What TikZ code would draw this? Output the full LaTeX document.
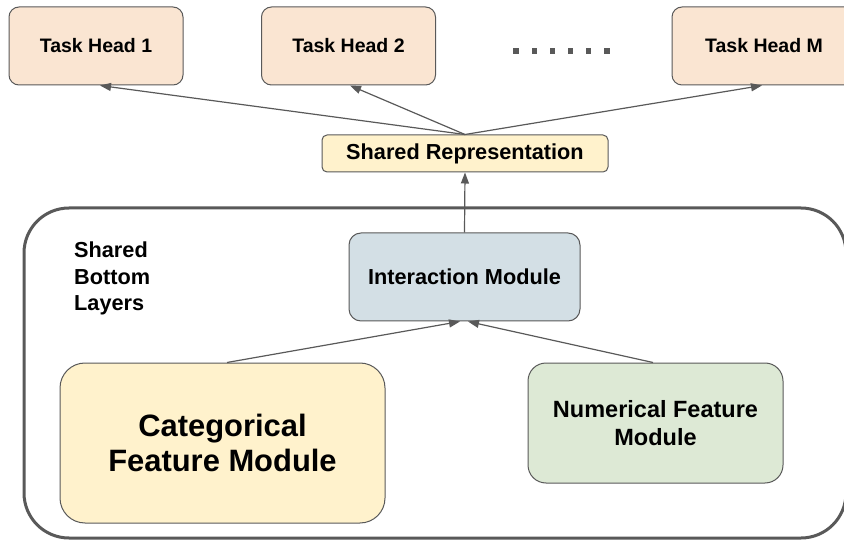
\documentclass[tikz,border=0pt]{standalone}
\usepackage{fontspec}
\setmainfont{Liberation Sans}
\usetikzlibrary{arrows.meta}
\definecolor{bord}{HTML}{595959}
\definecolor{headfill}{HTML}{FAE5D2}
\definecolor{yellowfill}{HTML}{FFF2CC}
\definecolor{bluefill}{HTML}{D3DFE5}
\definecolor{greenfill}{HTML}{DDE9D5}
\begin{document}
\begin{tikzpicture}[x=1pt,y=-1pt,
  box/.style={draw=bord, line width=1pt, align=center, inner sep=0pt, font=\bfseries},
  head/.style={box, fill=headfill, rounded corners=10pt, minimum width=174pt, minimum height=78pt,
    font=\bfseries\fontsize{19.5}{23}\selectfont},
  conn/.style={draw=bord, line width=1.2pt, -{Triangle[length=11pt,width=8pt]}}
]
\useasboundingbox (0,0) rectangle (844,540);
% container
\draw[bord, line width=3pt, rounded corners=45pt] (24,208) rectangle (846,538);
% task heads
\node[head] (th1) at (96,46) {Task Head 1};
\node[head] (th2) at (348.5,46) {Task Head 2};
\node[head, minimum width=184pt] (thm) at (764,46) {Task Head M};
\foreach \dx in {516,534.2,552.4,570.6,588.8,607}
  \fill[bord] (\dx-2.6,48.4) rectangle (\dx+2.6,53.6);
% shared representation
\node[box, fill=yellowfill, rounded corners=5pt, minimum width=286pt, minimum height=37pt,
  font=\bfseries\fontsize{21.7}{26}\selectfont] (sr) at (465,153.5) {Shared Representation};
% interaction
\node[box, fill=bluefill, rounded corners=12pt, minimum width=231pt, minimum height=88pt,
  font=\bfseries\fontsize{21.7}{26}\selectfont] (int) at (464.5,277) {Interaction Module};
% categorical
\node[box, fill=yellowfill, rounded corners=25pt, minimum width=325pt, minimum height=160pt,
  font=\bfseries\fontsize{30.9}{35}\selectfont] (cat) at (222.5,443) {Categorical\\Feature Module};
% numerical
\node[box, fill=greenfill, rounded corners=18pt, minimum width=255pt, minimum height=120pt,
  font=\bfseries\fontsize{23.5}{28}\selectfont] (num) at (655.5,423) {Numerical Feature\\Module};
% label
\node[anchor=north west, inner sep=0pt, align=left,
  font=\bfseries\fontsize{21.7}{26.5}\selectfont] (lbl) at (74,242) {Shared\\Bottom\\Layers};
% connectors
\draw[conn] (sr.north) -- ([xshift=4pt]th1.south);
\draw[conn] (sr.north) -- ([xshift=1.5pt]th2.south);
\draw[conn] (sr.north) -- ([xshift=-2pt]thm.south);
\draw[conn] (int.north) -- (sr.south);
\draw[conn] ([xshift=4.5pt]cat.north) -- ([xshift=-4.5pt]int.south);
\draw[conn] ([xshift=-2.5pt]num.north) -- ([xshift=3.5pt]int.south);
\end{tikzpicture}
\end{document}
